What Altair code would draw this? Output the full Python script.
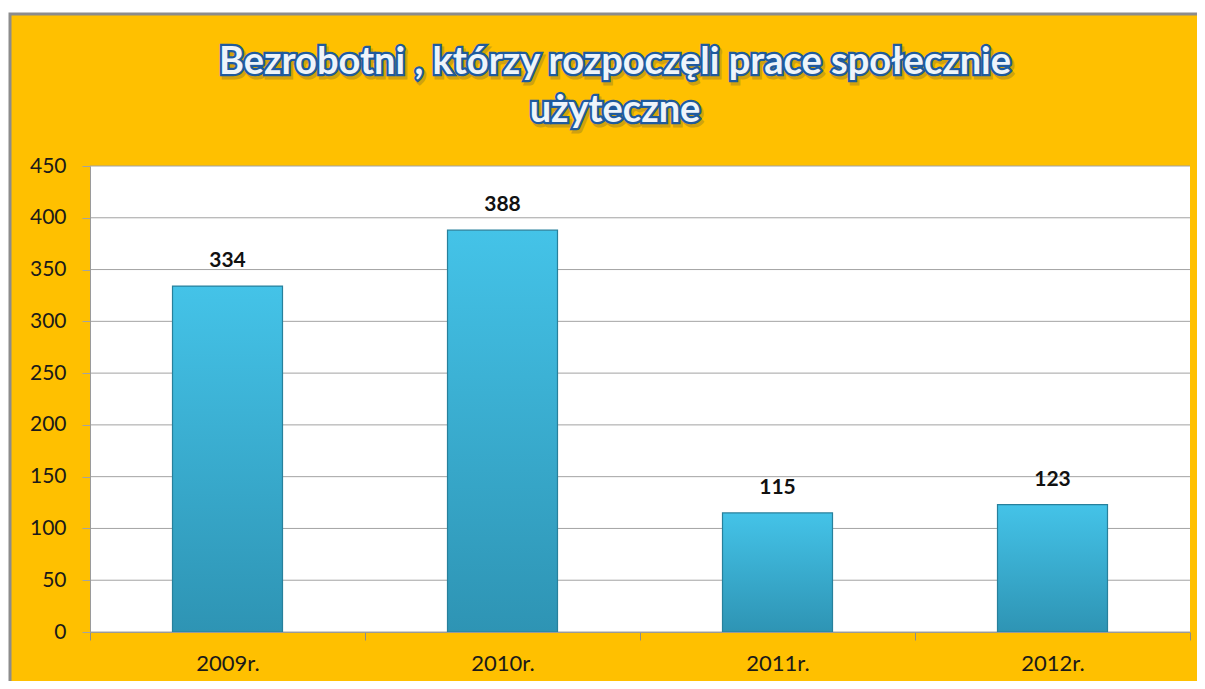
import altair as alt
import pandas as pd

years = ["2009r.", "2010r.", "2011r.", "2012r."]
values = [334, 388, 115, 123]
y_ticks = [0, 50, 100, 150, 200, 250, 300, 350, 400, 450]
title_lines = ["Bezrobotni , którzy rozpoczęli prace społecznie", "użyteczne"]

W, H = 1100, 466
PAD = {"left": 82, "top": 158, "right": 7, "bottom": 49}
FONT = "Lato"
ORANGE = "#FFC000"
GRID = "#a3a3a3"

df = pd.DataFrame({"year": years, "value": values})
grid_df = pd.DataFrame({"v": y_ticks})
one = pd.DataFrame({"k": [0]})

yscale = alt.Scale(domain=[0, 450])
xscale = alt.Scale(domain=years, paddingInner=0, paddingOuter=0)
yaxis = alt.Axis(title=None, values=y_ticks, labelFont=FONT, labelFontSize=21,
                 labelColor="#1a1a1a", labelPadding=16, tickSize=8,
                 tickColor=GRID, domainColor="#9a9a9a", grid=False, zindex=1)

# background panel (orange with grey border)
panel = alt.Chart(one).mark_rect(fill=ORANGE, stroke="#8c8c8c", strokeWidth=3).encode(
    x=alt.value(-80), x2=alt.value(W + 40), y=alt.value(-152), y2=alt.value(H + 80)
)
plot_bg = alt.Chart(one).mark_rect(fill="white").encode(
    x=alt.value(0), x2=alt.value(W), y=alt.value(0), y2=alt.value(H)
)
grid = alt.Chart(grid_df).mark_rule(color=GRID, strokeWidth=1).encode(
    y=alt.Y("v:Q", scale=yscale, axis=yaxis), x=alt.value(0), x2=alt.value(W)
)

bars = alt.Chart(df).mark_bar(
    width=alt.RelativeBandSize(0.4),
    color=alt.LinearGradient(
        gradient="linear", x1=0, y1=0, x2=0, y2=1,
        stops=[alt.GradientStop(offset=0, color="#44C3E8"),
               alt.GradientStop(offset=1, color="#2E94B4")],
    ),
    stroke="#27809c", strokeWidth=1.2,
).encode(
    x=alt.X("year:N", sort=years, scale=xscale,
            axis=alt.Axis(title=None, labelAngle=0, labelFont=FONT, labelFontSize=22,
                          labelColor="#1a1a1a", labelPadding=13, tickBand="extent",
                          tickSize=8, tickColor="#8c8c8c", domainColor="#9a9a9a",
                          grid=False, zindex=1, orient="bottom")),
    y=alt.Y("value:Q", scale=yscale, axis=yaxis),
)

labels = alt.Chart(df).mark_text(
    dy=-15, baseline="bottom", font=FONT, fontSize=21, fontWeight="bold", color="#111111"
).encode(
    x=alt.X("year:N", sort=years, scale=xscale),
    y=alt.Y("value:Q", scale=yscale),
    text=alt.Text("value:Q"),
)

title_common = dict(text=title_lines, font=FONT, fontSize=38, fontWeight="bold",
                    align="center", baseline="middle", lineHeight=48)
TY = -103
title_shadow = alt.Chart(one).mark_text(
    fill="#7a6a30", stroke="#7a6a30", strokeWidth=5, opacity=0.35, dx=2, dy=3, **title_common
).encode(x=alt.value(525), y=alt.value(TY))
title_outline = alt.Chart(one).mark_text(
    fill="#1F5A9E", stroke="#1F5A9E", strokeWidth=4.5, **title_common
).encode(x=alt.value(525), y=alt.value(TY))
title_fill = alt.Chart(one).mark_text(fill="#EEF4FA", **title_common).encode(
    x=alt.value(525), y=alt.value(TY)
)

chart = alt.layer(panel, plot_bg, grid, bars, labels, title_shadow, title_outline, title_fill).properties(
    width=W, height=H, padding=PAD, autosize=alt.AutoSizeParams(type="none"), background="white"
).configure_view(stroke=None)

chart.save("out.html", embed_options={"renderer": "svg", "actions": False})
